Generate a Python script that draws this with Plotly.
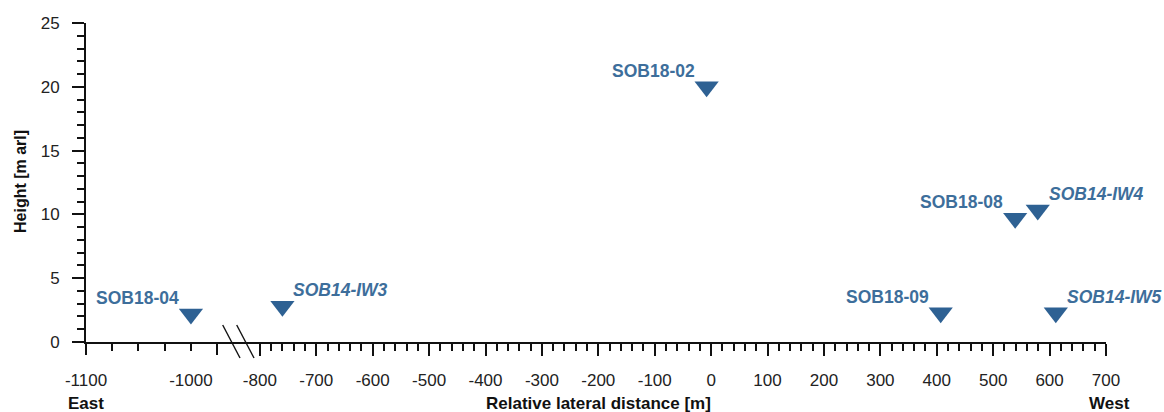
import plotly.graph_objects as go

# ---------------- data ----------------
well_names = ["SOB18-04", "SOB14-IW3", "SOB18-02", "SOB18-09", "SOB18-08", "SOB14-IW4", "SOB14-IW5"]
distance_m = [-1000, -760, -8, 407, 539, 579, 611]
height_m = [2.2, 2.8, 20.0, 2.3, 9.7, 10.35, 2.3]
label_side = ["left", "right", "left", "left", "left", "right", "right"]
label_italic = [False, True, False, False, False, True, True]

x_left_ticks = [-1100, -1000]
x_left_minor = [-1075, -1050, -1025]
x_left_long = [-1100, -975]
x_right_ticks = [-800, -700, -600, -500, -400, -300, -200, -100, 0, 100, 200, 300, 400, 500, 600, 700]
y_ticks = [0, 5, 10, 15, 20, 25]

x_left_range = [-1100, -944]
x_right_range = [-818, 700]
y_range = [0, 25]
break_at = -950  # points below this value belong to the left (compressed) segment

# ---------------- style ----------------
FONT = "Liberation Sans, Arial, sans-serif"
MARKER_COLOR = "#2e6193"
LABEL_COLOR = "#3d6e9b"
AXIS_COLOR = "#111111"
W, H = 1164, 412
ML, MT = 86, 23
PW, PH = 1020, 319
MR, MB = W - ML - PW, H - MT - PH
SPLIT = 0.1605


def px2paper_x(px):  # window pixel -> paper fraction
    return (px - ML) / PW


def px2paper_y(py):
    return (MT + PH - py) / PH


fig = go.Figure()

left_idx = [i for i, d in enumerate(distance_m) if d < break_at]
right_idx = [i for i, d in enumerate(distance_m) if d >= break_at]

fig.add_trace(go.Scatter(
    x=[distance_m[i] for i in left_idx], y=[height_m[i] for i in left_idx],
    xaxis="x", yaxis="y", mode="markers",
    marker=dict(symbol="triangle-down", size=21, color=MARKER_COLOR, line=dict(width=0)),
    hovertext=[well_names[i] for i in left_idx], showlegend=False,
))
fig.add_trace(go.Scatter(
    x=[distance_m[i] for i in right_idx], y=[height_m[i] for i in right_idx],
    xaxis="x2", yaxis="y", mode="markers",
    marker=dict(symbol="triangle-down", size=21, color=MARKER_COLOR, line=dict(width=0)),
    hovertext=[well_names[i] for i in right_idx], showlegend=False,
))
# empty trace so the overlay axis carrying the long ticks is drawn
fig.add_trace(go.Scatter(x=[], y=[], xaxis="x3", yaxis="y", showlegend=False, hoverinfo="skip"))

annotations = []
for name, d, h, side, it in zip(well_names, distance_m, height_m, label_side, label_italic):
    txt = f"<b>{name}</b>"
    if it:
        txt = f"<i>{txt}</i>"
    annotations.append(dict(
        x=d, y=h, xref="x" if d < break_at else "x2", yref="y",
        text=txt, showarrow=False,
        xanchor="right" if side == "left" else "left", yanchor="middle",
        xshift=-10 if side == "left" else 9, yshift=16,
        font=dict(family=FONT, size=17.5, color=LABEL_COLOR),
    ))

annotations += [
    dict(text="<b>Relative lateral distance [m]</b>", xref="paper", yref="paper",
         x=px2paper_x(598), y=px2paper_y(404), xanchor="center", yanchor="middle",
         showarrow=False, font=dict(family=FONT, size=17, color="#111")),
    dict(text="<b>East</b>", xref="paper", yref="paper",
         x=px2paper_x(86), y=px2paper_y(404), xanchor="center", yanchor="middle",
         showarrow=False, font=dict(family=FONT, size=17, color="#111")),
    dict(text="<b>West</b>", xref="paper", yref="paper",
         x=px2paper_x(1109), y=px2paper_y(404), xanchor="center", yanchor="middle",
         showarrow=False, font=dict(family=FONT, size=17, color="#111")),
    dict(text="<b>Height [m arl]</b>", xref="paper", yref="paper", textangle=-90,
         x=px2paper_x(20), y=px2paper_y(182), xanchor="center", yanchor="middle",
         showarrow=False, font=dict(family=FONT, size=16, color="#111")),
]

# axis-break slashes
shapes = []
for x0px in (222.7, 236.7):
    shapes.append(dict(type="line", xref="paper", yref="paper",
                       x0=px2paper_x(x0px), y0=px2paper_y(325),
                       x1=px2paper_x(x0px + 17.3), y1=px2paper_y(358),
                       line=dict(color=AXIS_COLOR, width=1.4)))

tickfont = dict(family=FONT, size=17, color="#222")
tick_style = dict(ticks="outside", tickwidth=1.6, tickcolor=AXIS_COLOR)
line_style = dict(showline=True, linecolor=AXIS_COLOR, linewidth=1.8, showgrid=False, zeroline=False)

fig.update_layout(
    width=W, height=H,
    margin=dict(l=ML, r=MR, t=MT, b=MB, autoexpand=False),
    paper_bgcolor="white", plot_bgcolor="white",
    font=dict(family=FONT),
    xaxis=dict(
        domain=[0, SPLIT], range=x_left_range, anchor="y",
        tickmode="array", tickvals=x_left_ticks, ticktext=[str(v) for v in x_left_ticks],
        ticklen=7, **tick_style,
        minor=dict(tickmode="array", tickvals=x_left_minor, ticklen=7, **tick_style),
        **line_style, tickfont=tickfont, ticklabelstandoff=15,
    ),
    xaxis3=dict(
        domain=[0, SPLIT], range=x_left_range, anchor="y", overlaying="x",
        tickmode="array", tickvals=x_left_long, showticklabels=False,
        ticklen=12, **tick_style,
        showline=False, showgrid=False, zeroline=False,
    ),
    xaxis2=dict(
        domain=[SPLIT, 1], range=x_right_range, anchor="y",
        tickmode="array", tickvals=x_right_ticks, ticktext=[str(v) for v in x_right_ticks],
        ticklen=12, **tick_style,
        minor=dict(dtick=20, tick0=0, ticklen=7, **tick_style),
        **line_style, tickfont=tickfont, ticklabelstandoff=10,
    ),
    yaxis=dict(
        domain=[0, 1], range=y_range, anchor="x",
        tickmode="array", tickvals=y_ticks, ticktext=[str(v) for v in y_ticks],
        ticklen=12, **tick_style,
        minor=dict(dtick=1, ticklen=7, **tick_style),
        **line_style, tickfont=tickfont, ticklabelstandoff=9,
    ),
    annotations=annotations,
    shapes=shapes,
)

# remove the browser's default 8px body margin so the figure fills the window exactly
fig.write_html(
    "out.html",
    config={"displayModeBar": False},
    post_script="document.body.style.margin='0';document.body.style.overflow='hidden';",
)
